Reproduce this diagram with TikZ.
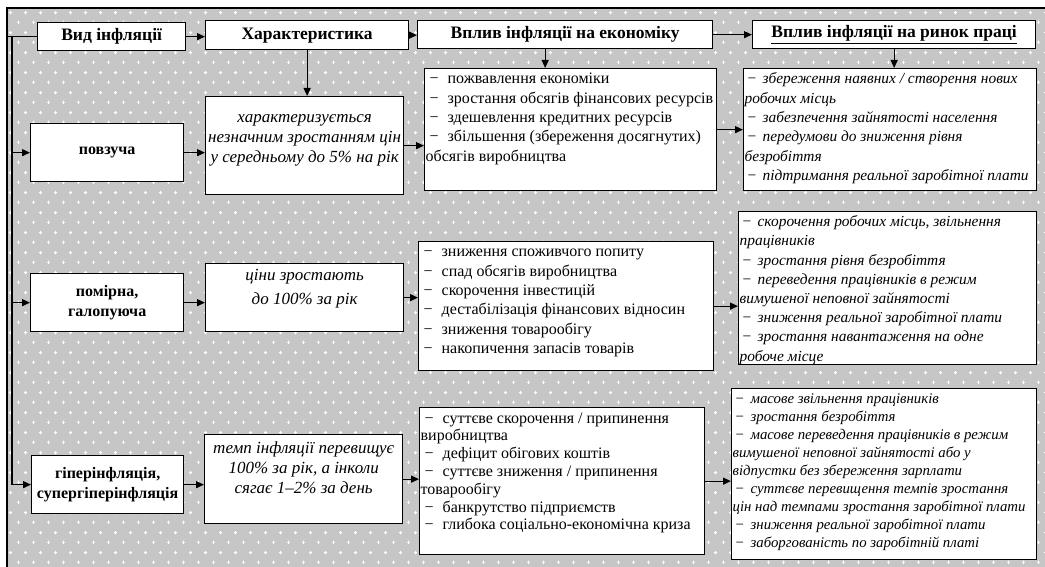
\documentclass[tikz,border=0pt]{standalone}
\usepackage{fontspec}
\setmainfont{Liberation Serif}
\usetikzlibrary{arrows.meta,patterns}

\definecolor{bgc}{RGB}{198,198,198}

\pgfdeclarepatternformonly{sparkles}{\pgfqpoint{0pt}{0pt}}{\pgfqpoint{15pt}{20pt}}{\pgfqpoint{15pt}{20pt}}{%
  \pgfsetlinewidth{1pt}%
  \pgfpathmoveto{\pgfqpoint{2pt}{5pt}}\pgfpathlineto{\pgfqpoint{5.5pt}{5pt}}%
  \pgfpathmoveto{\pgfqpoint{3.75pt}{3.25pt}}\pgfpathlineto{\pgfqpoint{3.75pt}{6.75pt}}%
  \pgfpathmoveto{\pgfqpoint{9.5pt}{15pt}}\pgfpathlineto{\pgfqpoint{13pt}{15pt}}%
  \pgfpathmoveto{\pgfqpoint{11.25pt}{13.25pt}}\pgfpathlineto{\pgfqpoint{11.25pt}{16.75pt}}%
  \pgfusepath{stroke}%
}

\newcommand{\dsh}{\hspace*{5pt}\makebox[18pt][l]{\upshape −}}
\newcommand{\dshl}{\hspace*{4pt}\makebox[15pt][l]{\upshape −}}
\newcommand{\cont}{\hspace*{1pt}}
% width, height, top space, alignment, text
\newcommand{\pbx}[5]{\parbox[c][#2][t]{#1}{#4\vspace*{#3}\strut#5\par}}

\begin{document}
\begin{tikzpicture}[x=1pt,y=-1pt,
  box/.style={draw=black,line width=1.3pt,fill=white,inner sep=0pt,anchor=north west},
  arr/.style={-{Triangle[length=8pt,width=7pt]},line width=1.3pt},
  ln/.style={line width=1.3pt},
  hd/.style={font=\fontsize{17.5}{20}\selectfont\bfseries},
  lab/.style={font=\fontsize{16}{20}\selectfont\bfseries,align=center},
  chr/.style={font=\fontsize{17}{20}\selectfont\itshape},
  lst/.style={font=\fontsize{16}{19.4}\selectfont},
  lstl/.style={font=\fontsize{15.4}{19.4}\selectfont\itshape},
]
\useasboundingbox (0,0) rectangle (1045,567);
\fill[bgc] (7,8) rectangle (1045,567);
\fill[pattern=sparkles,pattern color=white] (7,8) rectangle (1045,567);
\draw[line width=1.5pt] (1045,8) -- (7,8) -- (7,567);

% headers
\node[box,hd,minimum width=148pt,minimum height=28pt] (vid) at (37,22) {Вид інфляції};
\node[box,hd,minimum width=203pt,minimum height=29pt] (har) at (205,20) {Характеристика};
\node[box,hd,minimum width=295pt,minimum height=28pt] (ve) at (417,20) {Вплив інфляції на економіку};
\node[box,hd,minimum width=283pt,minimum height=28pt] (vr) at (752,20) {\underline{Вплив інфляції на ринок праці}};

% row labels
\node[box,lab,minimum width=153pt,minimum height=58pt] (r1) at (30,123) {повзуча};
\node[box,lab,minimum width=153pt,minimum height=58pt] (r2) at (30,273) {помірна,\\галопуюча};
\node[box,lab,minimum width=152pt,minimum height=58pt] (r3) at (31,455) {гіперінфляція,\\супергіперінфляція};

% characteristics
\node[box,chr] (c1) at (205,96) {\pbx{198pt}{98pt}{12pt}{\centering}{характеризується\\незначним зростанням цін\\у середньому до 5\% на рік}};
\node[box,chr] (c2) at (205,263) {\pbx{198pt}{68pt}{3pt}{\centering}{ціни зростають\\[4pt]до 100\% за рік}};
\node[box,chr] (c3) at (204,434) {\pbx{198pt}{89pt}{4.5pt}{\centering}{темп інфляції перевищує\\100\% за рік, а інколи\\сягає 1–2\% за день}};

% economy
\node[box,lst] (e1) at (424,68) {\pbx{292pt}{122pt}{1.5pt}{\raggedright}{%
\dsh пожвавлення економіки\\
\dsh зростання обсягів фінансових ресурсів\\
\dsh здешевлення кредитних ресурсів\\
\dsh збільшення (збереження досягнутих)\\
\cont обсягів виробництва}};
\node[box,lst] (e2) at (418,241) {\pbx{295pt}{129pt}{1.5pt}{\raggedright}{%
\dsh зниження споживчого попиту\\
\dsh спад обсягів виробництва\\
\dsh скорочення інвестицій\\
\dsh дестабілізація фінансових відносин\\
\dsh зниження товарообігу\\
\dsh накопичення запасів товарів}};
\node[box,lst,font=\fontsize{16}{17.8}\selectfont] (e3) at (419,407) {\pbx{285pt}{147pt}{3pt}{\raggedright}{%
\dsh суттєве скорочення / припинення\\
\cont виробництва\\
\dsh дефіцит обігових коштів\\
\dsh суттєве зниження / припинення\\
\cont товарообігу\\
\dsh банкрутство підприємств\\
\dsh глибока соціально-економічна криза}};

% labour market
\node[box,lstl] (l1) at (743,68) {\pbx{293pt}{122pt}{1.5pt}{\raggedright}{%
\dshl збереження наявних / створення нових\\
\cont робочих місць\\
\dshl забезпечення зайнятості населення\\
\dshl передумови до зниження рівня\\
\cont безробіття\\
\dshl підтримання реальної заробітної плати}};
\node[box,lstl,font=\fontsize{15.4}{19.2}\selectfont\itshape] (l2) at (738,211) {\pbx{298pt}{153pt}{1.6pt}{\raggedright}{%
\dshl скорочення робочих місць, звільнення\\
\cont працівників\\
\dshl зростання рівня безробіття\\
\dshl переведення працівників в режим\\
\cont вимушеної неповної зайнятості\\
\dshl зниження реальної заробітної плати\\
\dshl зростання навантаження на одне\\
\cont робоче місце}};
\node[box,lstl,font=\fontsize{14.8}{18}\selectfont\itshape] (l3) at (731,388) {\pbx{305pt}{171pt}{2.4pt}{\raggedright}{%
\dshl масове звільнення працівників\\
\dshl зростання безробіття\\
\dshl масове переведення працівників в режим\\
\cont вимушеної неповної зайнятості або у\\
\cont відпустки без збереження зарплати\\
\dshl суттєве перевищення темпів зростання\\
\cont цін над темпами зростання заробітної плати\\
\dshl зниження реальної заробітної плати\\
\dshl заборгованість по заробітній платі}};

% header connectors
\draw[arr] (vid.east) -- (vid.east -| har.west);
\draw[arr] (har.east) -- (har.east -| ve.west);
\draw[arr] (ve.east) -- (ve.east -| vr.west);
\draw[arr] (har.south) -- (har.south |- c1.north);
\draw[arr] ([xshift=-20pt]ve.south) -- ([xshift=-20pt]ve.south |- e1.north);
\draw[arr] (vr.south) -- (vr.south |- l1.north);

% trunk
\coordinate (fr) at (7,36);
\coordinate (tk) at (12,36);
\draw[ln] (vid.west) -- (vid.west -| fr);
\draw[ln] (vid.west -| tk) -- (r3.west -| tk);
\draw[arr] (r1.west -| tk) -- (r1.west);
\draw[arr] (r2.west -| tk) -- (r2.west);
\draw[arr] (r3.west -| tk) -- (r3.west);

% row connectors
\draw[arr] (r1.east) -- (r1.east -| c1.west);
\draw[arr] (r2.east) -- (r2.east -| c2.west);
\draw[arr] (r3.east) -- (r3.east -| c3.west);
\draw[arr] (c1.east) -- (c1.east -| e1.west);
\draw[arr] (c2.east) -- (c2.east -| e2.west);
\draw[arr] (c3.east) -- (c3.east -| e3.west);
\draw[arr] (e1.east) -- (e1.east -| l1.west);
\draw[arr] (e2.east) -- (e2.east -| l2.west);
\draw[arr] (e3.east) -- (e3.east -| l3.west);
\end{tikzpicture}
\end{document}
